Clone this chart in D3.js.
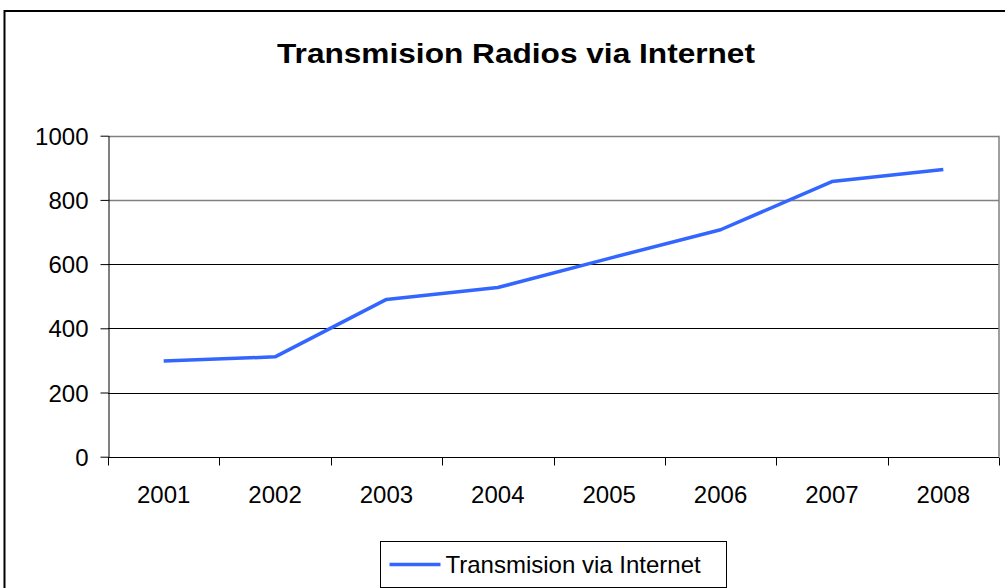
<!DOCTYPE html>
<html>
<head>
<meta charset="utf-8">
<script src="https://cdn.jsdelivr.net/npm/d3@7"></script>
<style>
  body { margin: 0; background: #fff; }
  svg { display: block; font-family: "Liberation Sans", Arial, sans-serif; }
</style>
</head>
<body>
<div id="chart"></div>
<script>
// data
var years = ["2001", "2002", "2003", "2004", "2005", "2006", "2007", "2008"];
var internetRadios = [298, 311, 490, 527, 618, 707, 857, 895];
var yTicks = [0, 200, 400, 600, 800, 1000];
var seriesName = "Transmision via Internet";
var chartTitle = "Transmision Radios via Internet";

var width = 1005, height = 588;
var plot = {left: 108, right: 999, top: 135.7, bottom: 456.7};

var svg = d3.select("#chart").append("svg")
	.attr("width", width)
	.attr("height", height);

// outer chart frame
svg.append("rect")
	.attr("x", 4.5).attr("y", 11)
	.attr("width", 1010).attr("height", 600)
	.attr("fill", "#fff")
	.attr("stroke", "#000")
	.attr("stroke-width", 2);

var x = d3.scaleBand()
	.domain(years)
	.range([plot.left, plot.right]);

var y = d3.scaleLinear()
	.domain([0, 1000])
	.range([plot.bottom, plot.top]);

// gridlines (top two come out grey in the original)
svg.append("g").selectAll("line")
	.data(yTicks.filter(d => d > 0))
	.enter().append("line")
	.attr("x1", plot.left).attr("x2", plot.right)
	.attr("y1", d => Math.round(y(d)) + 0.5)
	.attr("y2", d => Math.round(y(d)) + 0.5)
	.attr("stroke", d => d >= 800 ? "#808080" : "#000")
	.attr("stroke-width", d => d >= 800 ? 1.5 : 1);

// plot area right border
svg.append("line")
	.attr("x1", plot.right).attr("x2", plot.right)
	.attr("y1", plot.top).attr("y2", plot.bottom)
	.attr("stroke", "#808080")
	.attr("stroke-width", 1.5);

// y axis
var yAxis = svg.append("g")
	.attr("transform", "translate(" + (plot.left + 0.5) + ",0)")
	.call(d3.axisLeft(y).tickValues(yTicks).tickFormat(d3.format("d"))
		.tickSize(8).tickPadding(12).tickSizeOuter(0));
yAxis.select(".domain").attr("stroke", "#000");
yAxis.selectAll(".tick line").attr("stroke", "#000");
yAxis.selectAll("text")
	.attr("font-size", 24)
	.attr("font-family", "Liberation Sans, Arial, sans-serif")
	.attr("fill", "#000")
	.attr("dy", "0.36em");

// x axis, ticks sit between categories
var xAxis = svg.append("g")
	.attr("transform", "translate(0," + (Math.round(plot.bottom) + 0.5) + ")");
xAxis.append("line")
	.attr("x1", plot.left).attr("x2", plot.right)
	.attr("stroke", "#000");
xAxis.selectAll(".sep")
	.data(years.concat(["end"]))
	.enter().append("line")
	.attr("class", "sep")
	.attr("x1", (d, i) => Math.round(plot.left + i * x.step()) + 0.5)
	.attr("x2", (d, i) => Math.round(plot.left + i * x.step()) + 0.5)
	.attr("y1", 0).attr("y2", 8)
	.attr("stroke", "#000");
xAxis.selectAll(".lbl")
	.data(years)
	.enter().append("text")
	.attr("class", "lbl")
	.attr("x", d => x(d) + x.bandwidth() / 2)
	.attr("y", 45)
	.attr("text-anchor", "middle")
	.attr("font-size", 24)
	.attr("fill", "#000")
	.text(d => d);

// the series
var line = d3.line()
	.x((d, i) => x(years[i]) + x.bandwidth() / 2)
	.y(d => y(d));

svg.append("path")
	.datum(internetRadios)
	.attr("d", line)
	.attr("fill", "none")
	.attr("stroke", "#3366FF")
	.attr("stroke-width", 3.5)
	.attr("stroke-linejoin", "round");

// title
svg.append("text")
	.attr("transform", "translate(516,63) scale(1.13,1)")
	.attr("text-anchor", "middle")
	.attr("font-size", 28)
	.attr("font-weight", "bold")
	.attr("fill", "#000")
	.text(chartTitle);

// legend
var legend = svg.append("g").attr("transform", "translate(380.5,541.5)");
legend.append("rect")
	.attr("width", 346).attr("height", 46)
	.attr("fill", "#fff")
	.attr("stroke", "#000");
legend.append("line")
	.attr("x1", 9).attr("x2", 60)
	.attr("y1", 23).attr("y2", 23)
	.attr("stroke", "#3366FF")
	.attr("stroke-width", 3.5);
legend.append("text")
	.attr("x", 65).attr("y", 31)
	.attr("font-size", 24)
	.attr("fill", "#000")
	.text(seriesName);
</script>
</body>
</html>
